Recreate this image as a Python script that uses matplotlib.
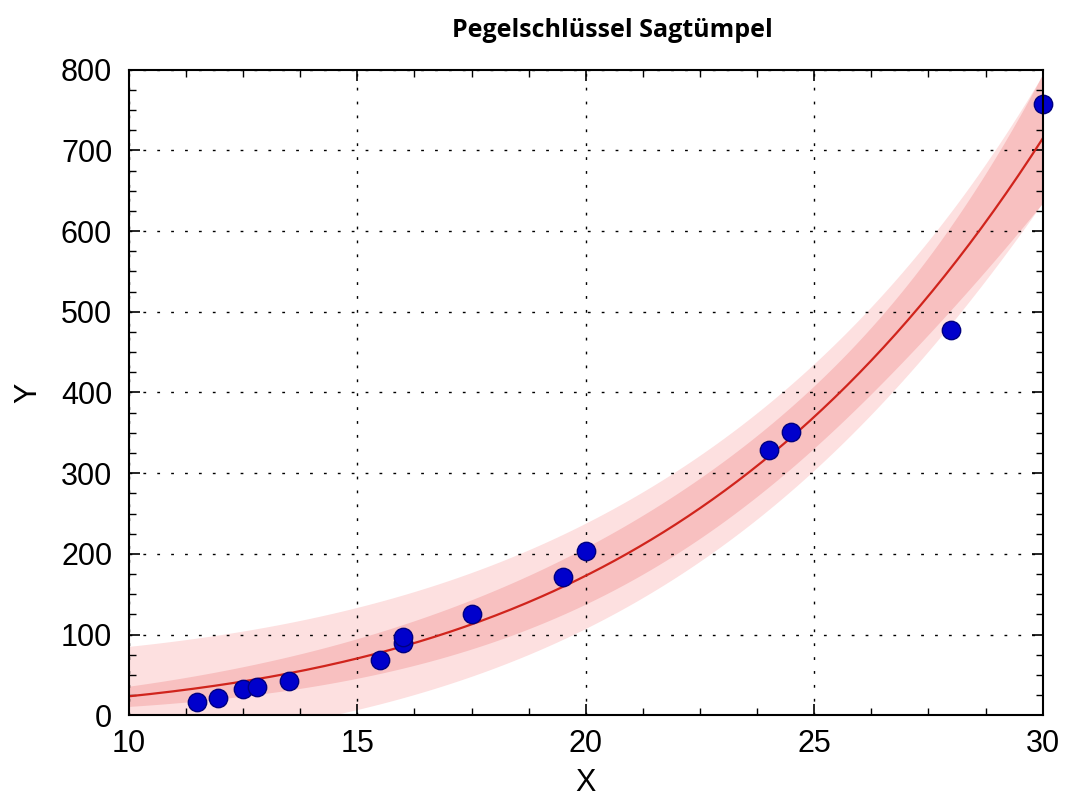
import numpy as np
import matplotlib
matplotlib.use("Agg")
import matplotlib.pyplot as plt
from matplotlib.ticker import MultipleLocator

# measured points (Pegel X, Abfluss Y)
x_data = [11.5, 11.95, 12.5, 12.8, 13.5, 15.5, 16.0, 16.0, 17.5, 19.5, 20.0, 24.0, 24.5, 28.0, 30.0]
y_data = [17, 22, 32, 35, 42, 69, 90, 97, 125, 171, 203, 329, 351, 478, 758]

x_ticks = [10, 15, 20, 25, 30]
y_ticks = [0, 100, 200, 300, 400, 500, 600, 700, 800]
title = "Pegelschlüssel Sagtümpel"

# rating curve Y = a*(X - x0)^n : scan x0 and n, a by least squares
xd = np.array(x_data, dtype=float)
yd = np.array(y_data, dtype=float)
best = None
for x0 in np.arange(-20.0, 9.0, 0.1):
    for n in np.arange(1.0, 7.0, 0.01):
        f = (xd - x0) ** n
        a_ = np.dot(f, yd) / np.dot(f, f)
        sse_ = np.sum((yd - a_ * f) ** 2)
        if best is None or sse_ < best[0]:
            best = (sse_, a_, x0, n)
sse, a, x0, n = best

# bands with x0 held fixed (a, n free)
dof = len(xd) - 2
s = np.sqrt(sse / dof)
t_pred = 2.2    # outer band
t_conf = 3.5    # inner band

def jac(x):
    d = x - x0
    f = d ** n
    return np.column_stack([f, a * f * np.log(d)])

J = jac(xd)
cov_inv = np.linalg.inv(J.T @ J)

xs = np.linspace(10, 30, 300)
ys = a * (xs - x0) ** n
Js = jac(xs)
lev = np.einsum("ij,jk,ik->i", Js, cov_inv, Js)
ci = t_conf * s * np.sqrt(lev)
pi = t_pred * s * np.sqrt(1 + lev)

fig = plt.figure(figsize=(10.65, 8.01), dpi=100)
ax = fig.add_axes([0.121, 0.107, 0.858, 0.806])

ax.fill_between(xs, ys - pi, ys + pi, color="#fde0e0", lw=0, zorder=1)
ax.fill_between(xs, ys - ci, ys + ci, color="#f8c0c0", lw=0, zorder=2)
ax.plot(xs, ys, color="#d0241c", lw=1.6, zorder=3)
ax.scatter(x_data, y_data, s=175, color="#0000cc", edgecolors="#000080", linewidths=1.0, zorder=4, clip_on=False)

ax.set_xlim(10, 30)
ax.set_ylim(0, 800)
ax.set_xticks(x_ticks)
ax.set_yticks(y_ticks)
ax.xaxis.set_minor_locator(MultipleLocator(1.25))
ax.yaxis.set_minor_locator(MultipleLocator(25))
ax.tick_params(which="both", direction="in", top=True, right=True, labelsize=22)
ax.tick_params(axis="x", which="major", pad=10)
ax.tick_params(axis="y", which="major", pad=12)
ax.tick_params(which="major", length=8, width=1.2)
ax.tick_params(which="minor", length=5, width=1.0)
for lab in ax.get_xticklabels() + ax.get_yticklabels():
    lab.set_family("Liberation Sans")
ax.grid(True, which="major", color="black", linestyle=(0, (2, 8)), linewidth=1.0)
ax.set_axisbelow(False)
for sp in ax.spines.values():
    sp.set_linewidth(1.5)
    sp.set_zorder(5)

ax.set_xlabel("X", fontsize=22, family="Liberation Sans", labelpad=6)
ax.set_ylabel("Y", fontsize=22, family="Liberation Sans", labelpad=13)

fig.text(0.575, 0.962, title, ha="center", va="center", fontsize=18, fontweight="bold", family="Open Sans")

fig.savefig("out.png", dpi=100)
